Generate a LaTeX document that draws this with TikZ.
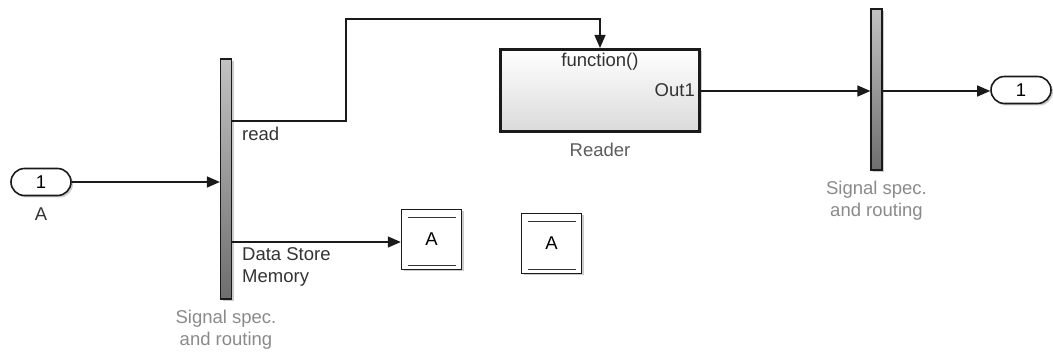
\documentclass[tikz,border=0pt]{standalone}
\usepackage{fontspec}
\setmainfont{Liberation Sans}
\usepackage{xcolor}
\usetikzlibrary{arrows.meta,positioning,shapes.misc,shadows}
\definecolor{wire}{HTML}{1A1A1A}
\definecolor{graytext}{HTML}{8A8A8A}
\definecolor{darktext}{HTML}{333333}
\definecolor{bustop}{HTML}{C2C2C2}
\definecolor{busbot}{HTML}{6E6E6E}
\definecolor{subbot}{HTML}{DADADA}

\begin{document}
\begin{tikzpicture}[
 x=1pt,y=-1pt,font=\fontsize{18.5}{22.5}\selectfont,
 shd/.style={drop shadow={shadow xshift=2pt,shadow yshift=-2pt,fill=black,opacity=.2}},
 port/.style={rounded rectangle,draw=wire,line width=1.6pt,fill=white,minimum width=60pt,minimum height=27pt,inner sep=0pt,shd},
 bus/.style={draw=wire,line width=1.2pt,top color=bustop,bottom color=busbot,minimum width=11pt,inner sep=0pt,shd},
 sub/.style={draw=wire,line width=3pt,top color=white,bottom color=subbot,minimum width=199pt,minimum height=82pt,inner sep=0pt,shd},
 ds/.style={draw=wire,line width=1.4pt,fill=white,minimum size=60pt,inner sep=0pt,shd,
  path picture={
   \draw[line width=1.3pt,draw=darktext] ([xshift=6pt,yshift=-8pt]path picture bounding box.north west) -- ([xshift=-6pt,yshift=-8pt]path picture bounding box.north east);
   \draw[line width=1.3pt,draw=darktext] ([xshift=6pt,yshift=4pt]path picture bounding box.south west) -- ([xshift=-6pt,yshift=4pt]path picture bounding box.south east);}},
 lbl/.style={text=graytext,align=center,inner sep=1pt},
 sig/.style={text=darktext,align=left,inner sep=1pt},
 arr/.style={-{Triangle[length=13pt,width=11pt]},line width=1.4pt,draw=wire}
]
\useasboundingbox (0,0) rectangle (1053,352);

% ports
\node[port] (in) at (41,182) {1};
\node[text=darktext,below=10pt of in,inner sep=1pt] (inname) {A};
\node[port] (out) at (1021,90) {1};

% buses
\node[bus,minimum height=240pt] (bus1) at (226,179) {};
\node[lbl,below=9pt of bus1] (bus1name) {Signal spec.\\and routing};
\node[bus,minimum height=161pt] (bus2) at (876.5,89.5) {};
\node[lbl,below=9pt of bus2] (bus2name) {Signal spec.\\and routing};

% reader subsystem
\node[sub] (reader) at (600,90.5) {};
\node[text=darktext,anchor=north,inner sep=5pt] (fcall) at (reader.north) {function()};
\node[text=darktext,anchor=east,inner sep=6pt] (out1) at (reader.east) {Out1};
\node[text=darktext!80,below=9pt of reader,inner sep=1pt] (readername) {Reader};

% data store blocks
\node[ds] (dsw) at (431.5,239.5) {A};
\node[ds] (dsr) at (551.5,243.5) {A};

% wires
\draw[arr] (in.east) -- (in.east -| bus1.west);
\draw[arr] (bus1.east |- 0,121) -- (346,121) -- (346,19) -| (reader.north);
\node[sig,anchor=north west] (rdname) at (241,126) {read};
\draw[arr] (bus1.east |- 0,242) -- (dsw.west |- 0,242);
\node[sig,anchor=north west] (dsmname) at (241,246) {Data Store\\Memory};
\draw[arr] (reader.east |- 0,91) -- (bus2.west |- 0,91);
\draw[arr] (bus2.east |- 0,91) -- (out.west |- 0,91);
\end{tikzpicture}
\end{document}
